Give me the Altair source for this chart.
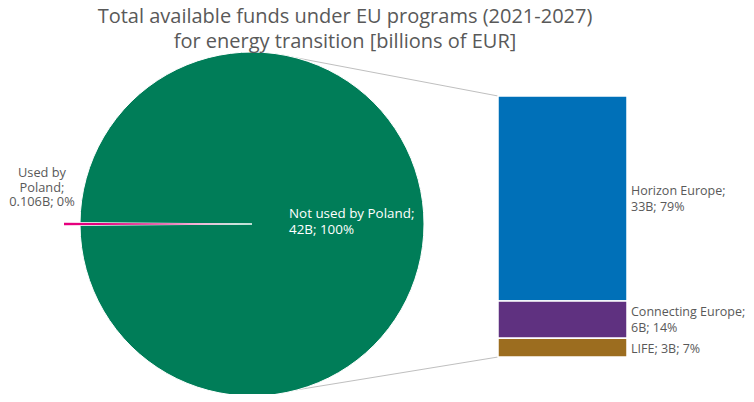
import math
import altair as alt
import pandas as pd

# ---- data ----
pie_categories = ["Not used by Poland", "Used by Poland"]
pie_values = [41.894, 0.106]
pie_labels = ["Not used by Poland;\n42B; 100%", "Used by\nPoland;\n0.106B; 0%"]
pie_order = [0, 1]

bar_categories = ["Horizon Europe", "Connecting Europe", "LIFE"]
bar_values = [33, 6, 3]
bar_labels = ["Horizon Europe;\n33B; 79%", "Connecting Europe;\n6B; 14%", "LIFE; 3B; 7%"]
bar_order = [2, 1, 0]  # LIFE at bottom

title_lines = ["Total available funds under EU programs (2021-2027)",
               "for energy transition [billions of EUR]"]

pie_df = pd.DataFrame({"cat": pie_categories, "value": pie_values,
                       "label": pie_labels, "ord": pie_order})
bar_df = pd.DataFrame({"cat": bar_categories, "value": bar_values,
                       "label": bar_labels, "ord": bar_order})
total_bar = sum(bar_values)
total_pie = sum(pie_values)
conn_df = pd.DataFrame({"top": [total_bar], "bottom": [0]})

# ---- styling / layout ----
FONT = "Open Sans"
GRAY = "#595959"
GREEN = "#007D58"
MAGENTA = "#E6007E"
BAR_COLORS = ["#0070B8", "#5F3180", "#9C6D1F"]

W, H = 738, 342
PAD_TOP = 44
CX, CY, R = 244, 172, 172
EXPLODE = 16

# rotate the pie so that the small slice points to the left
f_big = pie_values[0] / total_pie
start = 1.5 * math.pi - math.pi * (1 + f_big) + 2 * math.pi
theta_scale = alt.Scale(domain=[0, total_pie], range=[start, start + 2 * math.pi])
y_scale = alt.Scale(domain=[0, total_bar], range=[305, 44], padding=0, nice=False)

pie_color = alt.Color("cat:N", scale=alt.Scale(domain=pie_categories, range=[GREEN, MAGENTA]), legend=None)
theta_enc = alt.Theta("value:Q", stack=True, scale=theta_scale)

is_big = alt.datum.cat == pie_categories[0]

big_arc = alt.Chart(pie_df).mark_arc(radius=R, stroke="white", strokeWidth=1).encode(
    theta=theta_enc, color=pie_color, order=alt.Order("ord:Q"),
    opacity=alt.condition(is_big, alt.value(1), alt.value(0)),
    x=alt.value(CX), y=alt.value(CY),
)
small_arc = alt.Chart(pie_df).mark_arc(radius=R, strokeWidth=0).encode(
    theta=theta_enc, color=pie_color, order=alt.Order("ord:Q"),
    opacity=alt.condition(is_big, alt.value(0), alt.value(1)),
    x=alt.value(CX - EXPLODE), y=alt.value(CY),
)
big_text = alt.Chart(pie_df).mark_text(
    radius=37, align="left", baseline="middle", fontSize=13.4, font=FONT,
    color="white", lineBreak="\n", dy=-10, lineHeight=16,
).encode(
    theta=theta_enc, order=alt.Order("ord:Q"), detail="cat:N", text="label:N",
    opacity=alt.condition(is_big, alt.value(1), alt.value(0)),
    x=alt.value(CX), y=alt.value(CY),
)
small_text = alt.Chart(pie_df).mark_text(
    radius=210, align="center", baseline="middle", fontSize=12.8, font=FONT,
    color=GRAY, lineBreak="\n", dy=-51, lineHeight=14.5,
).encode(
    theta=theta_enc, order=alt.Order("ord:Q"), detail="cat:N", text="label:N",
    opacity=alt.condition(is_big, alt.value(0), alt.value(1)),
    x=alt.value(CX), y=alt.value(CY),
)

bars = alt.Chart(bar_df).transform_stack(
    stack="value", groupby=[], as_=["y0", "y1"], sort=[alt.SortField("ord")]
).mark_bar(stroke="white", strokeWidth=1.5).encode(
    x=alt.value(490), x2=alt.value(619),
    y=alt.Y("y0:Q", scale=y_scale, axis=None), y2="y1:Q",
    color=alt.Color("cat:N", scale=alt.Scale(domain=bar_categories, range=BAR_COLORS), legend=None),
)

bar_text_base = alt.Chart(bar_df).transform_window(
    cum="sum(value)", sort=[alt.SortField("ord")], frame=[None, 0]
).transform_calculate(mid="datum.cum - datum.value / 2")
text_enc = dict(x=alt.value(623), y=alt.Y("mid:Q", scale=y_scale, axis=None), text="label:N")
bar_text_two = bar_text_base.transform_filter("indexof(datum.label, '\\n') >= 0").mark_text(
    align="left", baseline="middle", fontSize=12.5, font=FONT, color=GRAY,
    lineBreak="\n", lineHeight=16, dy=-8,
).encode(**text_enc)
bar_text_one = bar_text_base.transform_filter("indexof(datum.label, '\\n') < 0").mark_text(
    align="left", baseline="middle", fontSize=12.5, font=FONT, color=GRAY, dy=1,
).encode(**text_enc)

conn_top = alt.Chart(conn_df).mark_rule(color="#BFBFBF", strokeWidth=1).encode(
    x=alt.value(490), x2=alt.value(284),
    y=alt.Y("top:Q", scale=y_scale, axis=None), y2=alt.value(5),
)
conn_bottom = alt.Chart(conn_df).mark_rule(color="#BFBFBF", strokeWidth=1).encode(
    x=alt.value(490), x2=alt.value(288),
    y=alt.Y("bottom:Q", scale=y_scale, axis=None), y2=alt.value(338),
)

chart = alt.layer(
    conn_top, conn_bottom, big_arc, small_arc, big_text, small_text,
    bars, bar_text_two, bar_text_one
).resolve_scale(color="independent").properties(
    width=W, height=H,
    autosize=alt.AutoSizeParams(type="none"),
    padding={"top": PAD_TOP, "left": 0, "right": 0, "bottom": 0},
    title=alt.TitleParams(
        text=title_lines, font=FONT, fontSize=20, fontWeight="normal",
        color=GRAY, anchor="middle", dx=-32, dy=6, lineHeight=25, offset=4,
    ),
).configure_view(stroke=None)

chart.save("out.html", embed_options={"renderer": "svg", "actions": False})
